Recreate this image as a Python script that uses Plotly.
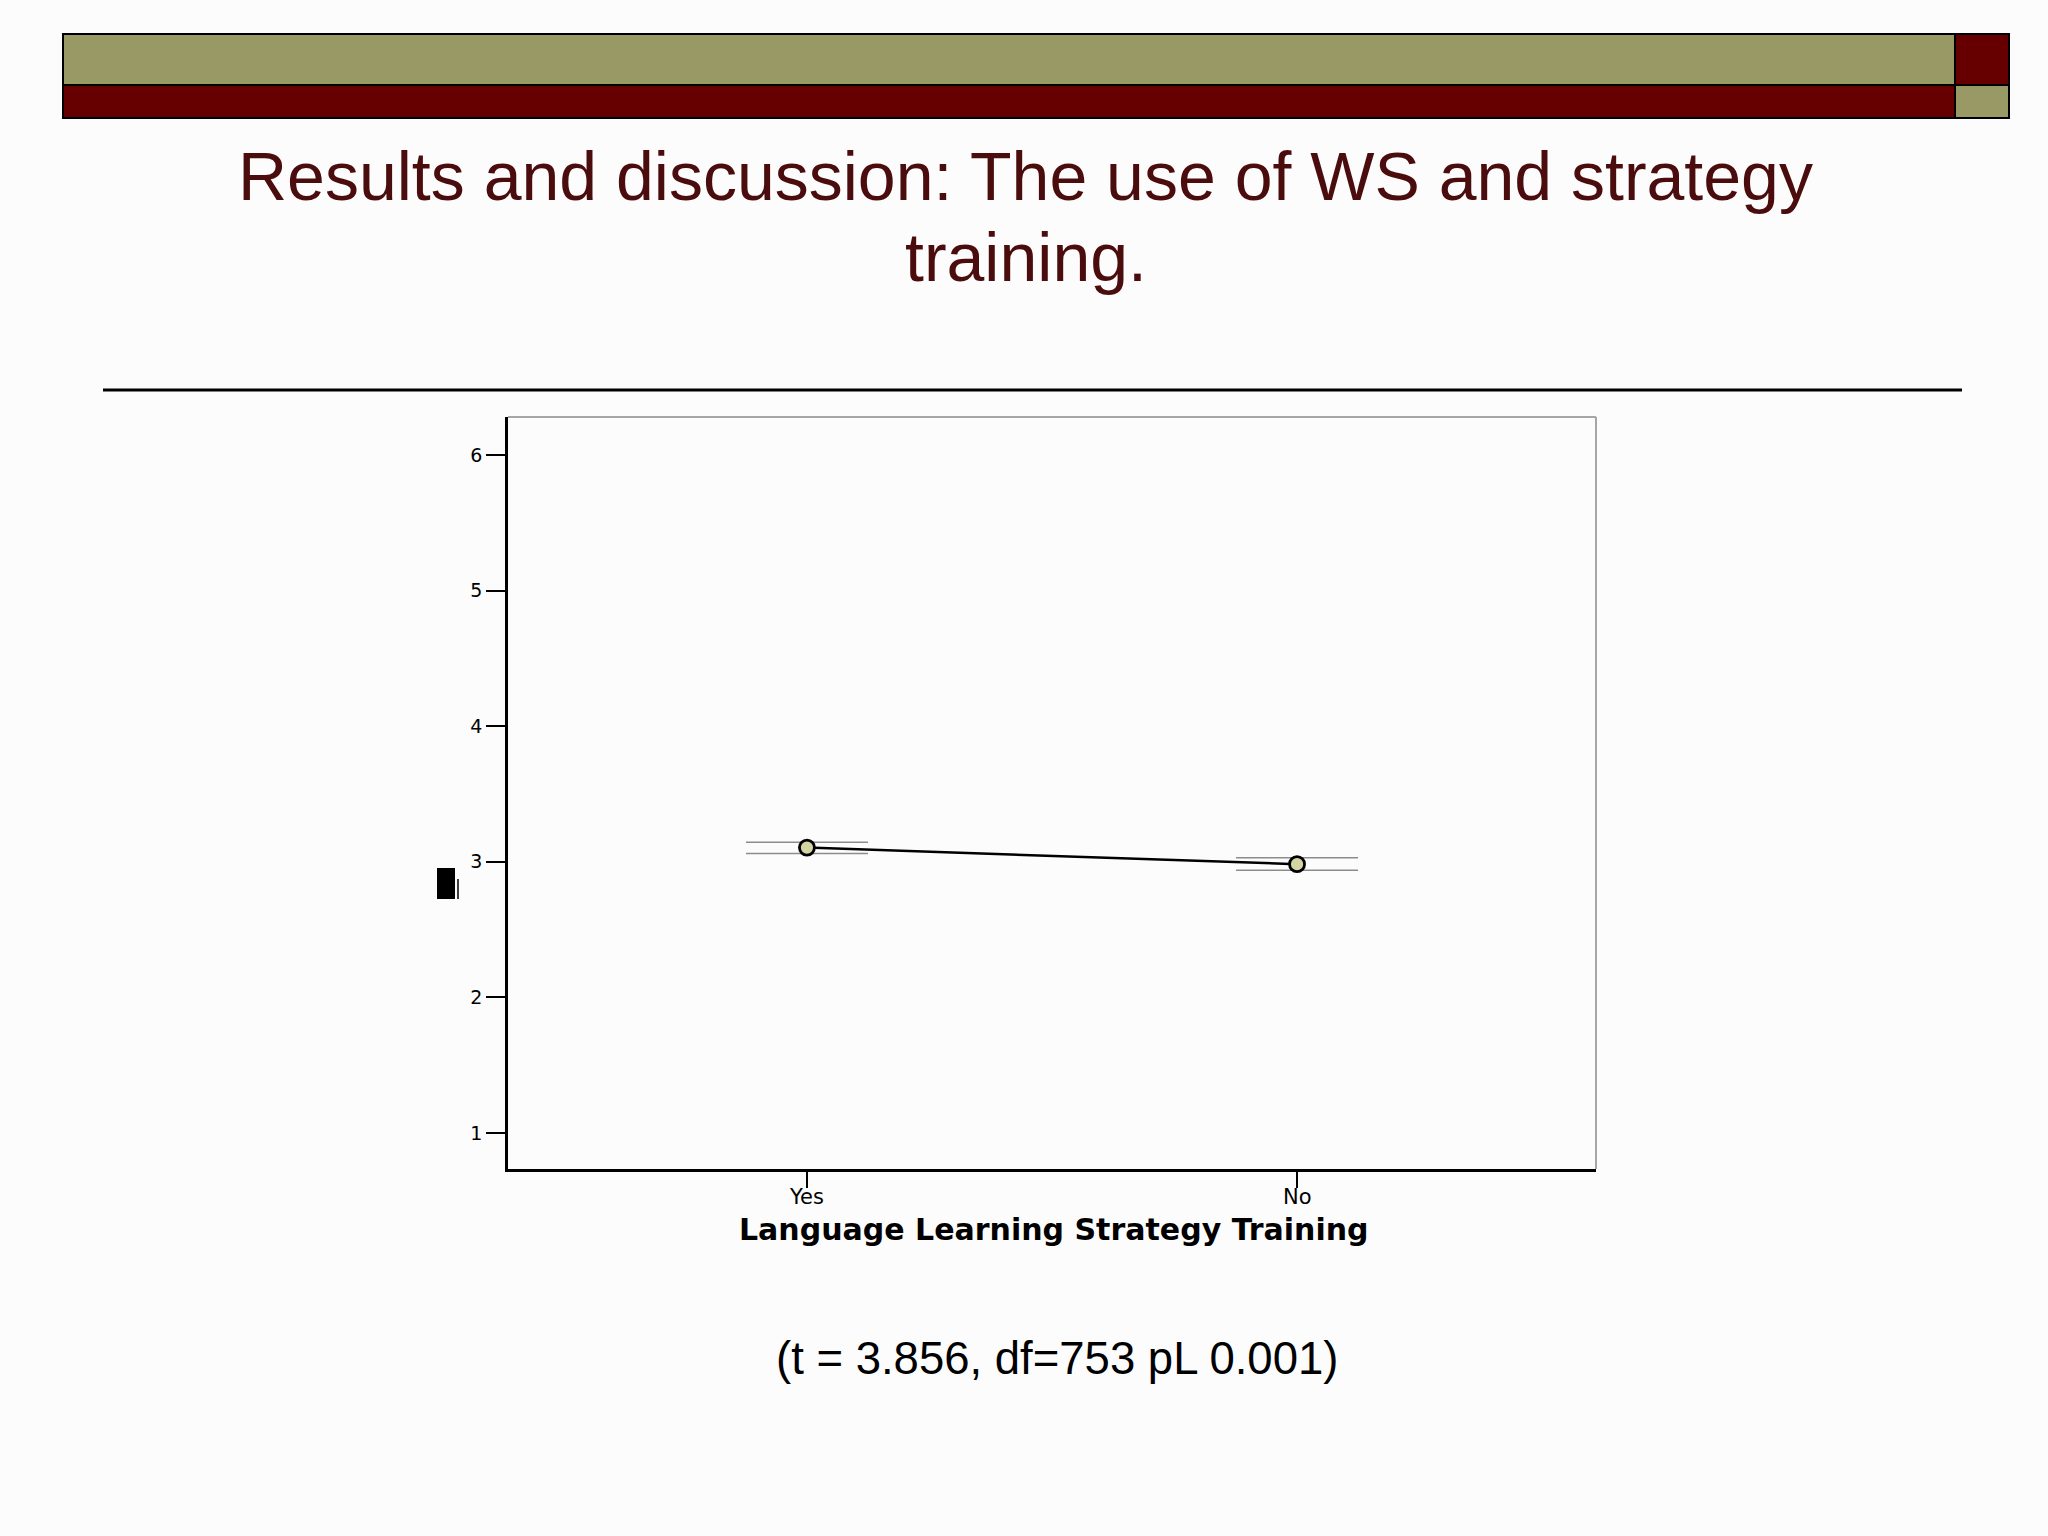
import plotly.graph_objects as go

# ---- data ----
categories = ["Yes", "No"]
means = [3.105, 2.983]
ci_upper = [3.145, 3.030]
ci_lower = [3.062, 2.937]
y_ticks = [1, 2, 3, 4, 5, 6]

title_line1 = "Results and discussion: The use of WS and strategy"
title_line2 = "training."
x_title = "Language Learning Strategy Training"
stat_text = "(t = 3.856, df=753 pL 0.001)"

W, H = 2048, 1536
OLIVE = "#999966"
MAROON = "#660000"
BG = "#fdfcfd"


def px_x(p):
    return p / W


def px_y(p):
    return 1 - p / H


err_plus = [u - m for u, m in zip(ci_upper, means)]
err_minus = [m - l for m, l in zip(means, ci_lower)]

fig = go.Figure()
fig.add_trace(go.Scatter(
    x=categories, y=means, mode="lines+markers",
    line=dict(color="black", width=2.5),
    marker=dict(size=15, color="#d3d6a2", line=dict(color="black", width=2.8)),
    error_y=dict(type="data", symmetric=False, array=err_plus, arrayminus=err_minus,
                 color="#8c8c8c", thickness=1.5, width=61),
    showlegend=False, hoverinfo="skip",
))

shapes = []
# header bars
shapes.append(dict(type="rect", xref="paper", yref="paper", x0=px_x(63), x1=px_x(1955),
                   y0=px_y(85), y1=px_y(34), fillcolor=OLIVE, line=dict(color="black", width=2), layer="above"))
shapes.append(dict(type="rect", xref="paper", yref="paper", x0=px_x(63), x1=px_x(1955),
                   y0=px_y(118), y1=px_y(85), fillcolor=MAROON, line=dict(color="black", width=2), layer="above"))
shapes.append(dict(type="rect", xref="paper", yref="paper", x0=px_x(1955), x1=px_x(2009),
                   y0=px_y(85), y1=px_y(34), fillcolor=MAROON, line=dict(color="black", width=2), layer="above"))
shapes.append(dict(type="rect", xref="paper", yref="paper", x0=px_x(1955), x1=px_x(2009),
                   y0=px_y(118), y1=px_y(85), fillcolor=OLIVE, line=dict(color="black", width=2), layer="above"))
# horizontal rule under title
shapes.append(dict(type="line", xref="paper", yref="paper", x0=px_x(103), x1=px_x(1962),
                   y0=px_y(390), y1=px_y(390), line=dict(color="black", width=3)))
# plot frame: grey top/right
shapes.append(dict(type="line", xref="x domain", yref="y domain", x0=0, x1=1, y0=1, y1=1,
                   line=dict(color="#a6a6a6", width=2)))
shapes.append(dict(type="line", xref="x domain", yref="y domain", x0=1, x1=1, y0=0, y1=1,
                   line=dict(color="#a6a6a6", width=2)))
# garbled y-axis label glyph
shapes.append(dict(type="rect", xref="paper", yref="paper", x0=px_x(437), x1=px_x(455),
                   y0=px_y(899), y1=px_y(868), fillcolor="black", line=dict(width=0)))
shapes.append(dict(type="line", xref="paper", yref="paper", x0=px_x(458), x1=px_x(458),
                   y0=px_y(899), y1=px_y(879), line=dict(color="black", width=1.5)))

annotations = [
    dict(text=title_line1, xref="paper", yref="paper", x=px_x(1025), y=px_y(176),
         xanchor="center", yanchor="middle", showarrow=False,
         font=dict(family="Liberation Sans, Arial", size=68, color="#4a0c0c")),
    dict(text=title_line2, xref="paper", yref="paper", x=px_x(1026), y=px_y(257),
         xanchor="center", yanchor="middle", showarrow=False,
         font=dict(family="Liberation Sans, Arial", size=68, color="#4a0c0c")),
    dict(text="<b>" + x_title + "</b>", xref="paper", yref="paper", x=px_x(1054), y=px_y(1229),
         xanchor="center", yanchor="middle", showarrow=False,
         font=dict(family="DejaVu Sans", size=30, color="black")),
    dict(text=stat_text, xref="paper", yref="paper", x=px_x(1057), y=px_y(1358),
         xanchor="center", yanchor="middle", showarrow=False,
         font=dict(family="Liberation Sans, Arial", size=45.5, color="black")),
]
# x category labels placed at the category positions of the x axis
for c in categories:
    annotations.append(dict(text=c, xref="x", yref="paper", x=c, y=px_y(1197),
                            xanchor="center", yanchor="middle", showarrow=False,
                            font=dict(family="DejaVu Sans", size=21, color="black")))

fig.update_layout(
    width=W, height=H,
    margin=dict(l=0, r=0, t=0, b=0),
    paper_bgcolor=BG, plot_bgcolor=BG,
    shapes=shapes, annotations=annotations,
    xaxis=dict(domain=[px_x(508), px_x(1596)], type="category",
               categoryorder="array", categoryarray=categories,
               range=[-0.61, 1.61], showgrid=False, zeroline=False,
               showline=True, linecolor="black", linewidth=2.5,
               ticks="outside", ticklen=16, tickwidth=1.5, tickcolor="black",
               showticklabels=False,
               automargin=False),
    yaxis=dict(domain=[px_y(1169), px_y(417)], range=[0.735, 6.28],
               tickvals=y_ticks, ticktext=[str(v) for v in y_ticks],
               showgrid=False, zeroline=False,
               showline=True, linecolor="black", linewidth=2.5,
               ticks="outside", ticklen=19, tickwidth=2, tickcolor="black",
               tickfont=dict(family="DejaVu Sans", size=19, color="black"),
               automargin=False),
)

fig.write_html("out.html", config={"displayModeBar": False},
               post_script="document.body.style.margin='0';document.body.style.overflow='hidden';")
